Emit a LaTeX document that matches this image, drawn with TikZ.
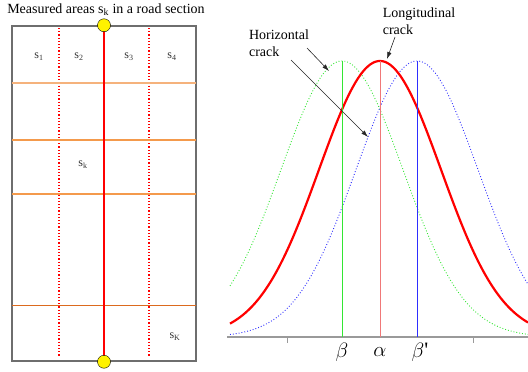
\documentclass[tikz,border=0pt]{standalone}
\usepackage{fontspec}
\setmainfont{Liberation Serif}
\usetikzlibrary{arrows.meta}
\definecolor{cutlight}{HTML}{F5B27C}
\definecolor{cutmid}{HTML}{F49A4C}
\definecolor{cutdark}{HTML}{DC6A1E}
\definecolor{frame}{HTML}{6E6E6E}
\definecolor{axisgrey}{HTML}{9A9A9A}
\definecolor{distgreen}{HTML}{33E633}
\definecolor{distblue}{HTML}{2E2EFF}
\definecolor{meanred}{HTML}{F07878}
\begin{document}
\begin{tikzpicture}[x=1pt, y=-1pt,
  declare function={bell(\x,\m)=337-276*exp(-0.5*((\x-\m)/61)^2);},
  every node/.style={inner sep=0pt},
  caption/.style={font=\fontsize{14}{17}\selectfont, align=left},
  area/.style={font=\fontsize{12}{14}\selectfont, text=black!80},
  greek/.style={font=\fontsize{22}{24}\selectfont},
  lane/.style={red, dotted, line width=1.2pt},
  endball/.style={circle, draw, fill=yellow, minimum size=13},
  pointer/.style={-{Latex[length=7pt,width=4.5pt]}, line width=0.6pt, black!85}]
\useasboundingbox (0,0) rectangle (528,372);

% road section
\node[caption] (title) at (106,10) {Measured areas s\textsubscript{k} in a road section};
\node[draw=frame, line width=1.5pt, minimum width=184, minimum height=335] (road) at (104,193.5) {};
\draw[lane] (59,28) -- (59,357);
\draw[lane] (149,28) -- (149,357);
\draw[cutlight, line width=1.6pt] (12,83) -- (196,83);
\draw[cutmid, line width=1.1pt] (12,140) -- (196,140);
\draw[cutmid, line width=1.1pt] (12,194) -- (196,194);
\draw[cutdark, line width=0.9pt] (12,305) -- (196,305);
\draw[red, line width=2.4pt] (road.north) -- (road.south);
\node[endball] (top) at (road.north) {};
\node[endball] (bottom) at (road.south) {};
\node[area] (s1) at (39,57) {s\textsubscript{1}};
\node[area] (s2) at (79,57) {s\textsubscript{2}};
\node[area] (s3) at (129,57) {s\textsubscript{3}};
\node[area] (s4) at (172,57) {s\textsubscript{4}};
\node[area] (sk) at (83,165) {s\textsubscript{k}};
\node[area] (sK) at (175,337) {s\textsubscript{K}};

% distributions
\draw[axisgrey, line width=1.3pt] (227,337) -- (528,337);
\draw[axisgrey, line width=1pt] (287,337) -- (287,343);
\draw[axisgrey, line width=1pt] (473,337) -- (473,343);
\draw[distgreen, dotted, line width=0.9pt] plot[domain=230:528, samples=120] (\x, {bell(\x,342)});
\draw[distblue, dotted, line width=0.9pt] plot[domain=230:528, samples=120] (\x, {bell(\x,417)});
\draw[red, line width=2.2pt] plot[domain=230:528, samples=120] (\x, {bell(\x,380)});
\coordinate (gtop) at (342,61);
\coordinate (gbase) at (342,337);
\coordinate (rtop) at (380,61);
\coordinate (rbase) at (380,337);
\coordinate (btop) at (417.5,61);
\coordinate (bbase) at (417.5,337);
\draw[distgreen, line width=1pt] (gtop) -- (gbase);
\draw[meanred, line width=1pt] (rtop) -- (rbase);
\draw[distblue, line width=1.1pt] (btop) -- (bbase);
\node[greek] (beta) at (342,352) {$\beta$};
\node[greek] (alpha) at (380,352) {$\alpha$};
\node[greek] (betap) at (420,352) {$\beta$\textquotesingle};

% crack labels
\node[caption] (horiz) at (279,43.5) {Horizontal\\crack};
\node[caption] (longi) at (419,21) {Longitudinal\\crack};
\coordinate (h1) at (307,48);
\coordinate (h1end) at (329,71);
\coordinate (h2) at (291,60);
\coordinate (h2end) at (368,137);
\coordinate (l1) at (395,37);
\coordinate (l1end) at (387,59);
\draw[pointer] (h1) -- (h1end);
\draw[pointer] (h2) -- (h2end);
\draw[pointer] (l1) -- (l1end);
\end{tikzpicture}
\end{document}
